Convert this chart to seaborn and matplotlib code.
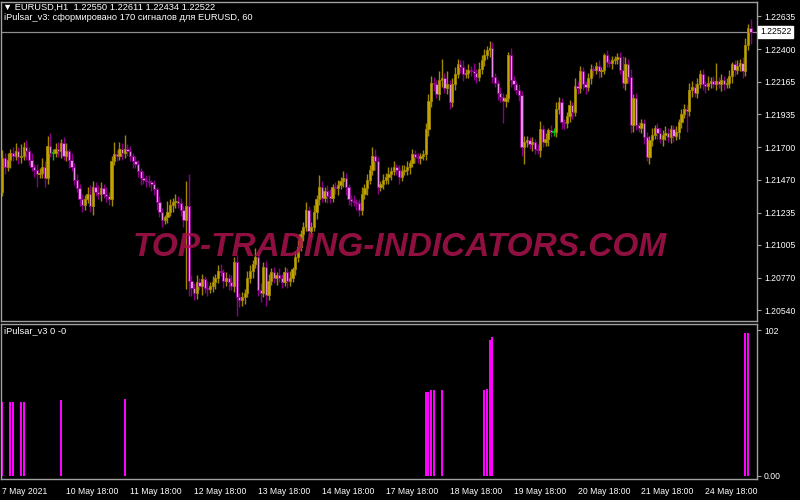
import numpy as np
import pandas as pd
import seaborn as sns
import matplotlib
matplotlib.use("Agg")
import matplotlib.pyplot as plt
from matplotlib import font_manager
from matplotlib.transforms import blended_transform_factory

# EURUSD H1 from 7 May 2021 18:00, prices in pips above 1.20000
first_open_pips = 138
close_pips = (
    [162, 156, 161, 166, 164, 167, 163, 164, 170, 167]
    + [161, 156, 154, 151, 152, 156, 148, 171, 166, 166]
    + [169, 167, 173, 164, 167, 161, 156, 147, 141, 133]
    + [129, 133, 137, 128, 142, 138, 137, 141, 137, 135]
    + [133, 160, 165, 164, 169, 166, 169, 167, 164, 160]
    + [158, 153, 148, 147, 146, 145, 144, 140, 131, 124]
    + [118, 120, 124, 129, 131, 132, 130, 125, 118, 128]
    + [75, 70, 66, 74, 71, 76, 70, 69, 71, 74]
    + [77, 82, 81, 75, 77, 74, 71, 88, 63, 61]
    + [63, 66, 77, 82, 87, 92, 68, 66, 85, 65, 75]
    + [81, 77, 79, 77, 74, 81, 75, 77, 83, 92]
    + [99, 108, 113, 125, 110, 113, 124, 133, 142, 134]
    + [139, 135, 134, 142, 141, 143, 146, 148, 142, 133]
    + [132, 131, 130, 125, 137, 141, 147, 154, 164, 160]
    + [142, 144, 147, 149, 151, 153, 156, 154, 149, 153]
    + [154, 156, 159, 165, 163, 162, 164, 165, 183, 203]
    + [216, 215, 208, 218, 219, 212, 215, 202, 215, 222]
    + [229, 227, 222, 223, 225, 224, 223, 220, 226, 232]
    + [236, 239, 241, 220, 216, 209, 206, 203, 205, 236]
    + [218, 215, 211, 207, 170, 174, 175, 172, 174, 169, 168]
    + [183, 174, 176, 182, 181, 181, 197, 202, 188, 187]
    + [192, 200, 195, 214, 212, 224, 215, 213, 219, 226]
    + [225, 228, 224, 225, 236, 231, 230, 232, 233, 234]
    + [225, 216, 229, 220, 186, 205, 186, 184, 187, 177]
    + [163, 175, 179, 184, 180, 176, 179, 180, 177, 183]
    + [178, 181, 188, 194, 197, 196, 211, 213, 209, 215]
    + [222, 215, 214, 216, 217, 215, 217, 215, 218, 215]
    + [216, 221, 229, 225, 228, 230, 224, 243, 255, 252.2]
)
upper_wick_pips = (
    [6, 4, 5, 3, 4, 6, 3, 8, 4, 5]
    + [3, 5, 2, 4, 3, 6, 4, 7, 9, 3]
    + [4, 5, 3, 4, 6, 2, 5, 3, 4, 3]
    + [4, 3, 5, 6, 4, 3, 5, 4, 3, 5]
    + [3, 4, 9, 3, 5, 4, 10, 3, 4, 2]
    + [4, 3, 2, 5, 3, 4, 2, 3, 2, 4]
    + [3, 2, 8, 4, 3, 5, 3, 4, 3, 18]
    + [23, 4, 3, 5, 3, 4, 2, 5, 3, 4]
    + [3, 4, 5, 2, 4, 3, 5, 4, 5, 3]
    + [4, 3, 5, 4, 3, 6, 4, 5, 3, 4, 5]
    + [3, 4, 2, 5, 3, 4, 3, 5, 2, 4]
    + [5, 3, 4, 6, 3, 4, 5, 3, 8, 4]
    + [3, 4, 5, 2, 3, 4, 3, 5, 4, 2]
    + [3, 4, 2, 3, 5, 3, 4, 3, 6, 5]
    + [3, 2, 4, 3, 5, 3, 4, 2, 3, 4]
    + [3, 4, 2, 4, 3, 3, 2, 3, 4, 5]
    + [5, 4, 3, 6, 14, 4, 9, 3, 4, 5]
    + [4, 3, 5, 3, 4, 3, 6, 3, 5, 4]
    + [4, 3, 5, 4, 3, 2, 4, 3, 3, 2]
    + [5, 3, 2, 4, 3, 4, 3, 2, 3, 2, 3]
    + [6, 3, 4, 2, 4, 3, 5, 4, 3, 2]
    + [3, 4, 2, 5, 3, 4, 3, 2, 4, 3]
    + [2, 3, 4, 2, 1, 3, 2, 3, 2, 3]
    + [4, 10, 5, 4, 6, 3, 4, 2, 3, 3]
    + [4, 3, 5, 2, 3, 4, 3, 5, 4, 3]
    + [3, 4, 2, 3, 4, 3, 5, 4, 3, 4]
    + [3, 4, 2, 5, 3, 4, 13, 3, 4, 3]
    + [3, 4, 2, 3, 4, 3, 4, 5, 3, 6.1]
)
lower_wick_pips = (
    [3, 5, 3, 6, 4, 3, 5, 4, 3, 6]
    + [4, 3, 5, 9, 3, 4, 6, 4, 3, 5]
    + [3, 4, 5, 3, 4, 6, 3, 4, 3, 5]
    + [5, 4, 3, 4, 6, 3, 4, 5, 3, 4]
    + [4, 5, 3, 4, 3, 5, 4, 3, 4, 5]
    + [3, 4, 5, 3, 4, 3, 5, 4, 6, 4]
    + [5, 3, 4, 3, 5, 4, 3, 4, 5, 49]
    + [11, 6, 5, 4, 3, 6, 4, 5, 3, 4]
    + [5, 4, 3, 5, 4, 6, 3, 4, 13, 5]
    + [4, 5, 3, 4, 5, 3, 4, 6, 3, 8, 4]
    + [3, 4, 5, 3, 4, 3, 5, 4, 3, 4]
    + [4, 3, 5, 3, 6, 4, 3, 5, 4, 3]
    + [3, 5, 4, 3, 4, 5, 3, 4, 6, 4]
    + [4, 3, 5, 4, 3, 4, 5, 3, 4, 6]
    + [5, 3, 4, 3, 5, 4, 3, 4, 5, 3]
    + [3, 4, 5, 3, 4, 3, 4, 3, 4, 5]
    + [4, 5, 3, 4, 5, 3, 4, 5, 3, 4]
    + [3, 4, 5, 3, 4, 3, 5, 4, 3, 4]
    + [4, 3, 5, 4, 3, 5, 4, 16, 4, 3]
    + [5, 4, 3, 4, 6, 12, 4, 3, 5, 4, 3]
    + [5, 4, 3, 5, 4, 3, 4, 3, 5, 4]
    + [3, 4, 5, 3, 4, 3, 4, 5, 3, 4]
    + [4, 3, 5, 4, 3, 4, 3, 4, 3, 4]
    + [3, 4, 5, 4, 6, 5, 4, 3, 4, 5]
    + [3, 5, 4, 3, 4, 3, 5, 4, 3, 4]
    + [4, 3, 5, 4, 3, 15, 4, 5, 3, 4]
    + [3, 4, 5, 3, 4, 3, 4, 3, 5, 4]
    + [3, 4, 5, 4, 3, 4, 5, 3, 4, 8.8]
)

# iPulsar_v3 signal histogram
signal_bars = [0, 3, 4, 7, 8, 22, 46, 159, 160, 161, 162, 165, 181, 182, 183, 184, 279, 280]
signal_values = [52, 52, 52, 52, 52, 53, 54, 59, 59, 60, 60, 60, 60, 61, 95, 97, 100, 100]

time_tick_bars = [0, 24, 48, 72, 96, 120, 144, 168, 192, 216, 240, 264]
time_tick_labels = ["7 May 2021", "10 May 18:00", "11 May 18:00", "12 May 18:00",
                    "13 May 18:00", "14 May 18:00", "17 May 18:00", "18 May 18:00",
                    "19 May 18:00", "20 May 18:00", "21 May 18:00", "24 May 18:00"]
price_ticks = [1.22635, 1.22400, 1.22165, 1.21935, 1.21700,
               1.21470, 1.21235, 1.21005, 1.20770, 1.20540]
price_tick_labels = ["1.22635", "1.22400", "1.22165", "1.21935", "1.21700",
                     "1.21470", "1.21235", "1.21005", "1.20770", "1.20540"]

assert len(close_pips) == len(upper_wick_pips) == len(lower_wick_pips)

closes = 1.2 + np.array(close_pips) / 10000
opens = np.concatenate([[1.2 + first_open_pips / 10000], closes[:-1]])
highs = np.maximum(opens, closes) + np.array(upper_wick_pips) / 10000
lows = np.minimum(opens, closes) - np.array(lower_wick_pips) / 10000
bars = np.arange(len(closes))

sns.set_theme(style="dark", rc={
    "axes.facecolor": "black", "figure.facecolor": "black",
    "axes.grid": False, "axes.edgecolor": "#a0a0a0",
})
plt.rcParams["font.family"] = ["Liberation Sans", "DejaVu Sans"]

GRID = "#a0a0a0"
FS = 6.2

fig = plt.figure(figsize=(8, 5), dpi=100)
ax = fig.add_axes([1 / 800, 1 - 321 / 500, 756 / 800, 319 / 500])
ax2 = fig.add_axes([1 / 800, 1 - 479 / 500, 756 / 800, 155 / 500])

# candles
bull_body, bull_wick = "#c2a300", "#a08800"
bear_body, bear_wick = "#e88ee8", "#8a008a"
doji_col = "#00c000"
body_cols, wick_cols = [], []
for o, c in zip(opens, closes):
    if c > o:
        body_cols.append(bull_body); wick_cols.append(bull_wick)
    elif c < o:
        body_cols.append(bear_body); wick_cols.append(bear_wick)
    else:
        body_cols.append(doji_col); wick_cols.append(doji_col)

ax.vlines(bars, lows, highs, colors=wick_cols, linewidth=1.0, zorder=2)
heights = np.maximum(np.abs(closes - opens), 0.00004)
ax.bar(bars, heights, bottom=np.minimum(opens, closes), width=0.85,
       color=body_cols, edgecolor=wick_cols, linewidth=0.6, zorder=3)

ax.axhline(closes[-1], color="#8f8f8f", linewidth=0.9, zorder=1)

ax.set_xlim(-0.5, 283.4)
ax.set_ylim(1.2 + 46.2 / 10000, 1.2 + 273.5 / 10000)
ax.set_xticks([])
ax.yaxis.tick_right()
ax.set_yticks(price_ticks, price_tick_labels)
ax.tick_params(axis="y", color=GRID, labelcolor="white", labelsize=FS,
               length=3, width=0.8, pad=2, direction="out")

trans = blended_transform_factory(ax.transAxes, ax.transData)
ax.text(1.0 + 3 / 756, closes[-1], f"{closes[-1]:.5f}", transform=trans,
        ha="left", va="center", fontsize=FS, color="black", clip_on=False,
        bbox=dict(facecolor="white", edgecolor="white", pad=1.2), zorder=6)

# signal panel
sig = pd.DataFrame({"bar": signal_bars, "value": signal_values})
sns.barplot(data=sig, x="bar", y="value", native_scale=True, width=0.75,
            color="#ff00ff", saturation=1, errorbar=None, linewidth=0, ax=ax2)
ax2.set_xlabel("")
ax2.set_ylabel("")
ax2.set_xlim(-0.5, 283.4)
ax2.set_ylim(-2.1, 106.2)
ax2.yaxis.tick_right()
ax2.set_yticks([0, 102], ["0.00", "102"])
ax2.tick_params(axis="y", color=GRID, labelcolor="white", labelsize=FS,
                length=3, width=0.8, pad=2, direction="out")
ax2.set_xticks(time_tick_bars, time_tick_labels, ha="left")
ax2.tick_params(axis="x", color=GRID, labelcolor="white", labelsize=FS,
                length=3, width=0.8, pad=3, direction="out")

for a in (ax, ax2):
    for s in a.spines.values():
        s.set_color(GRID)
        s.set_linewidth(1.0)

# header texts
fam = ["Liberation Sans", "DejaVu Sans"]
HFS = 6.7
fig.text(3 / 800, 1 - 2.5 / 500, "\u25bc EURUSD,H1  1.22550 1.22611 1.22434 1.22522",
         ha="left", va="top", color="white", fontsize=HFS, family=fam)
fig.text(4 / 800, 1 - 12.5 / 500, "iPulsar_v3: сформировано 170 сигналов для EURUSD, 60",
         ha="left", va="top", color="white", fontsize=HFS, family=fam)
fig.text(4 / 800, 1 - 326 / 500, "iPulsar_v3 0 -0",
         ha="left", va="top", color="white", fontsize=HFS, family=fam)

# watermark
names = {f.name for f in font_manager.fontManager.ttflist}
if "Liberation Sans Narrow" in names:
    wm_fam, wm_size = "Liberation Sans Narrow", 29
else:
    wm_fam, wm_size = "Liberation Sans", 24
fig.text(400 / 800, 1 - 247 / 500, "TOP-TRADING-INDICATORS.COM", ha="center", va="center",
         fontsize=wm_size, fontweight="bold", fontstyle="italic", family=wm_fam,
         color="#a8124c", alpha=0.85, zorder=10)

fig.savefig("out.png", dpi=100, facecolor="black")
